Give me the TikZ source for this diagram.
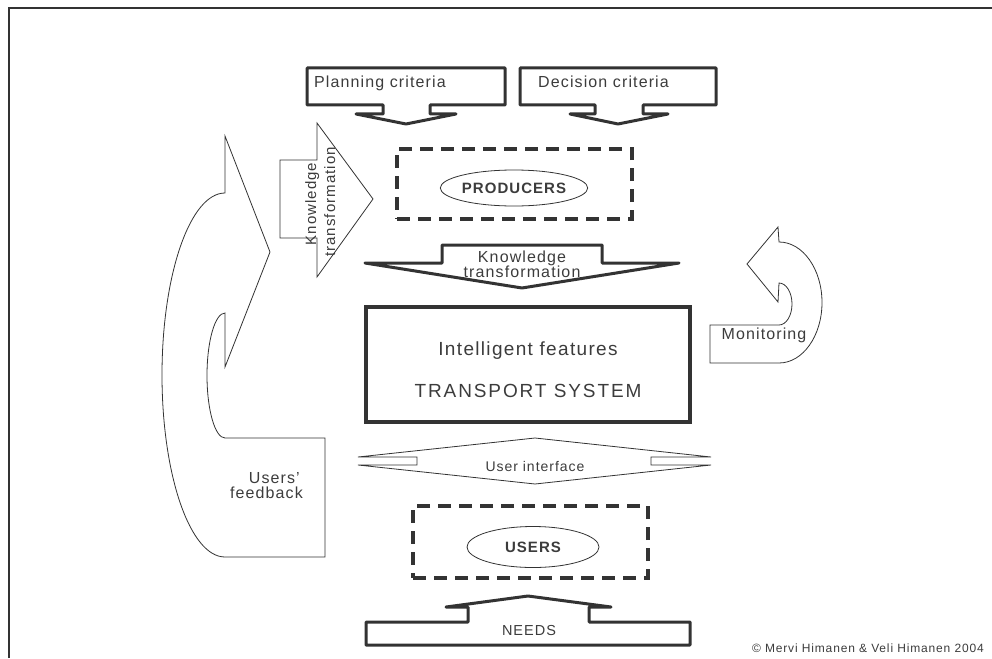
\documentclass[tikz,border=0pt]{standalone}
\usepackage{fontspec}
\setmainfont{Liberation Sans}[LetterSpace=7]
\newfontfamily\widecaps{Liberation Sans}[LetterSpace=10]
\usetikzlibrary{shapes.geometric}
\definecolor{ink}{HTML}{333333}
\definecolor{txt}{HTML}{3C3C3C}
\begin{document}
\begin{tikzpicture}[x=1pt,y=-1pt,
  frame/.style={draw=ink, line width=2pt},
  callout/.style={draw=ink, line width=3pt, line join=round, line cap=round},
  thinarrow/.style={draw=ink, line width=0.8pt, line join=miter},
  dashbox/.style={draw=ink, line width=4pt, dash pattern=on 13pt off 8pt, rectangle, inner sep=0pt},
  sysbox/.style={draw=ink, line width=3.5pt, rectangle, inner sep=0pt},
  oval/.style={draw=ink, line width=0.8pt, ellipse, inner sep=0pt, text=txt,
    font=\fontsize{15}{15}\selectfont\bfseries},
  lbl/.style={text=txt, inner sep=0pt, font=\fontsize{16}{16}\selectfont},
  smalllbl/.style={text=txt, inner sep=0pt, font=\fontsize{14.5}{15}\selectfont},
  biglbl/.style={text=txt, inner sep=0pt, font=\fontsize{19}{19}\selectfont},
]
\useasboundingbox (0,0) rectangle (992,658);

% page frame
\draw[frame] (9,658) -- (9,8) -- (992,8);

% criteria callouts pointing down to the producers
\draw[callout] (307,68) -- (505,68) -- (505,105) -- (430,105) -- (430,114) -- (456,114)
  -- (406,124) -- (356,114) -- (383,114) -- (383,105) -- (307,105) -- cycle;
\node[lbl, anchor=base west] (plan) at (314,88) {Planning criteria};

\draw[callout] (520,68) -- (716,68) -- (716,105) -- (643,105) -- (643,114) -- (668,114)
  -- (618,124) -- (570,114) -- (595,114) -- (595,105) -- (520,105) -- cycle;
\node[lbl, anchor=base west] (dec) at (538,88) {Decision criteria};

% producers
\node[dashbox, minimum width=235pt, minimum height=70pt] (prodzone) at (514.5,184) {};
\node[oval, minimum width=125pt, minimum height=36pt] (prod) at (514,188) {PRODUCERS};

% knowledge transformation from producers to the system
\draw[callout] (442,245) -- (602,245) -- (602,263) -- (679,263) -- (522,288)
  -- (365,263) -- (442,263) -- cycle;
\node[lbl, anchor=base] (kt1) at (522,262) {Knowledge};
\node[lbl, anchor=base] (kt2) at (522,277) {transformation};

% transport system
\node[sysbox, minimum width=324pt, minimum height=115pt] (sys) at (528,364.5) {};
\node[biglbl, anchor=base] (intel) at (528,355) {Intelligent features};
\node[biglbl, anchor=base] (tsys) at (528,397) {\widecaps TRANSPORT SYSTEM};

% user interface
\draw[thinarrow] (358,457) -- (535,438) -- (711,457) -- (651,457) -- (651,465) -- (711,465)
  -- (535,484) -- (358,465) -- (417,465) -- (417,457) -- cycle;
\node[text=txt, inner sep=0pt, font=\fontsize{14}{14}\selectfont, anchor=base] (ui) at (535,471) {User interface};

% users
\node[dashbox, minimum width=235pt, minimum height=72pt] (userzone) at (530.5,542) {};
\node[oval, minimum width=132pt, minimum height=41pt] (users) at (533,547) {USERS};

% needs pointing up to the users
\draw[callout] (366,622) -- (468,622) -- (468,607) -- (446,607) -- (528,596) -- (611,607)
  -- (589,607) -- (589,622) -- (690,622) -- (690,645) -- (366,645) -- cycle;
\node[smalllbl, anchor=base] (needs) at (529,635) {NEEDS};

% knowledge transformation into the producers
\draw[thinarrow] (280,160) -- (317,160) -- (317,123) -- (373,199) -- (317,277)
  -- (317,238) -- (280,238) -- cycle;
\node[text=txt, inner sep=0pt, font=\fontsize{15}{15}\selectfont, rotate=90, anchor=base] (lk1) at (316,204) {Knowledge};
\node[text=txt, inner sep=0pt, font=\fontsize{15}{15}\selectfont, rotate=90, anchor=base] (lk2) at (335,202) {transformation};

% users' feedback loop
\draw[thinarrow] (325,438) -- (225,438)
  arc[start angle=90, end angle=270, x radius=18, y radius=62.5]
  -- (225,367) -- (270,252) -- (225,136) -- (225,193)
  arc[start angle=270, end angle=90, x radius=63, y radius=182]
  -- (325,557) -- cycle;
\node[lbl, anchor=base east] (fb1) at (300,483) {Users'};
\node[lbl, anchor=base east] (fb2) at (303,498) {feedback};

% monitoring loop
\draw[thinarrow] (710,325) -- (779,325)
  arc[start angle=90, end angle=-90, x radius=13, y radius=21]
  -- (778,302) -- (747,264) -- (778,227) -- (779,242)
  arc[start angle=-90, end angle=90, x radius=43, y radius=60.5]
  -- (710,363) -- cycle;
\node[lbl, anchor=base] (mon) at (764,339) {Monitoring};

% copyright line
\node[text=txt, inner sep=0pt, font=\fontsize{12}{12}\selectfont, anchor=base east] (copy) at (984,652) {© Mervi Himanen \& Veli Himanen 2004};
\end{tikzpicture}
\end{document}
